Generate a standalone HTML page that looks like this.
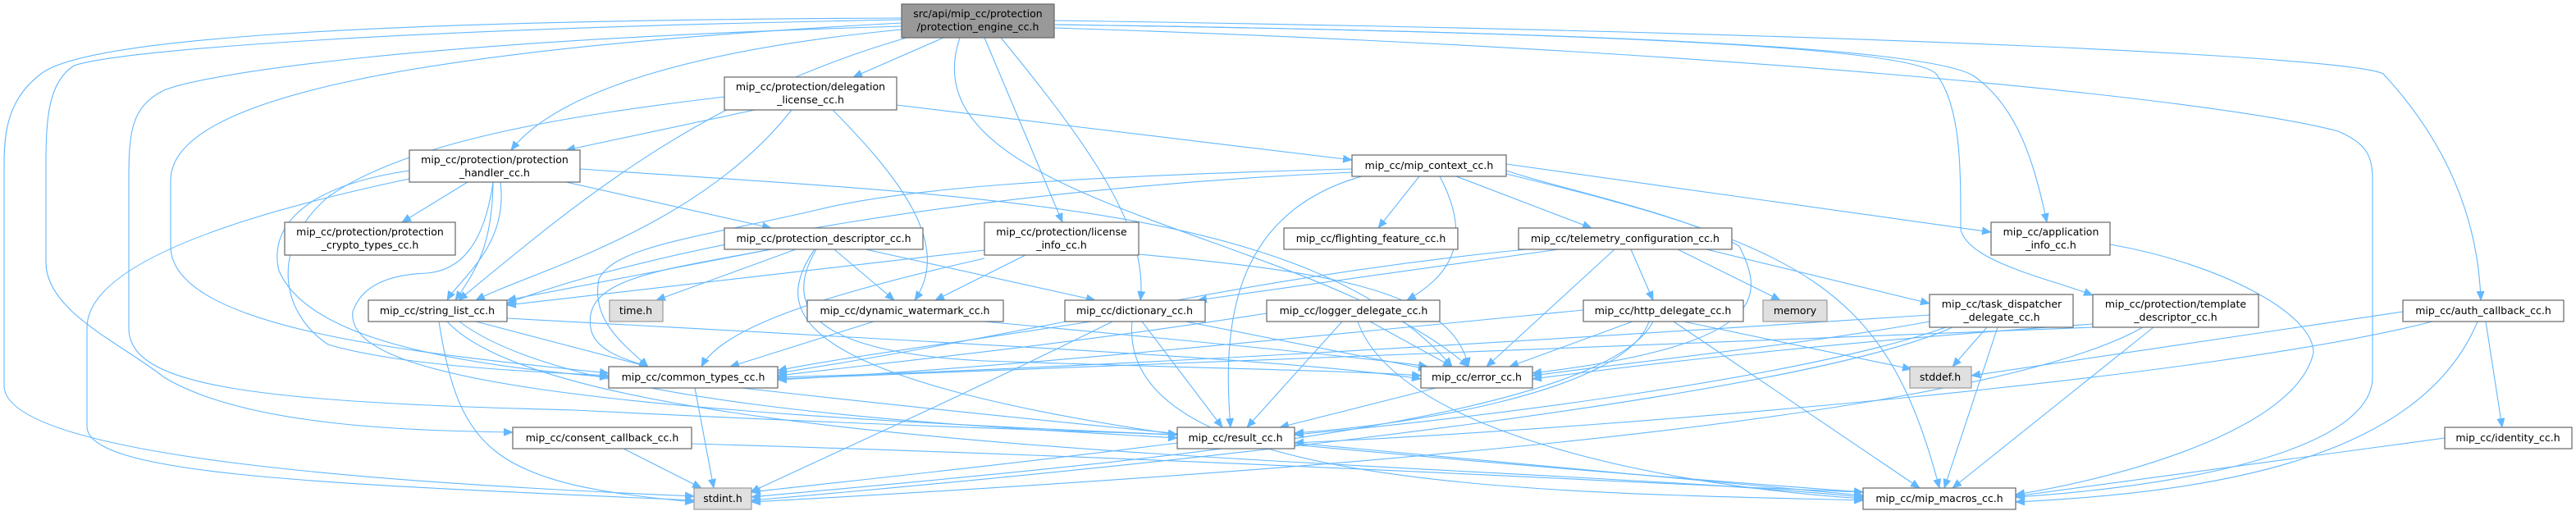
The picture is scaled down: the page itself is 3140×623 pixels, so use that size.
<!DOCTYPE html>
<html><head><meta charset="utf-8"><style>
html,body{margin:0;padding:0;background:#fff;}
svg{display:block;}
text{font-family:"DejaVu Sans","Liberation Sans",sans-serif;font-size:12.5px;fill:#000;text-anchor:middle;}
.e{fill:none;stroke:#63b8ff;stroke-width:1.1;marker-end:url(#a);}
.n{fill:#fff;stroke:#666;stroke-width:1.2;}
.g{fill:#e0e0e0;stroke:#999;stroke-width:1.2;}
.m{fill:#999;stroke:#666;stroke-width:1.2;}
</style></head><body>
<svg width="3140" height="623" viewBox="0 0 3140 623" xmlns="http://www.w3.org/2000/svg">
<defs><marker id="a" markerUnits="userSpaceOnUse" markerWidth="12" markerHeight="10" refX="11" refY="5" orient="auto"><path d="M0,0 L12,5 L0,10 z" fill="#63b8ff"/></marker></defs>
<g>
<!-- main -->
<path class="e" d="M1150,46 L1040,94"/>
<path class="e" d="M1099,36 C850,60 680,110 623,183"/>
<path class="e" d="M1105,46 C850,120 700,250 559,366"/>
<path class="e" d="M1099,28 C500,60 208,120 208,220 L208,300 C208,400 500,430 742,455"/>
<path class="e" d="M1099,22 C400,25 100,50 50,90 C10,120 5,160 5,200 L5,470 C5,560 500,590 846,605"/>
<path class="e" d="M1099,24 C500,35 150,60 90,80 C60,100 56,140 56,200 L56,320 C56,380 150,420 200,460 C300,520 500,525 625,527"/>
<path class="e" d="M1099,32 C500,50 250,90 200,110 C160,130 157,160 157,220 L157,400 C157,470 300,490 700,500 C1100,520 1300,525 1435,530"/>
<path class="e" d="M1170,46 C1100,250 1600,280 1790,447"/>
<path class="e" d="M1200,46 L1295,271"/>
<path class="e" d="M1220,46 C1330,180 1400,280 1390,366"/>
<path class="e" d="M1285,30 C2000,40 2350,60 2405,92 C2460,130 2480,200 2495,271"/>
<path class="e" d="M1285,30 C2000,40 2330,60 2360,90 C2390,130 2390,200 2390,280 C2400,320 2500,340 2551,360"/>
<path class="e" d="M1285,25 C2300,40 2870,70 2905,90 C2970,160 3020,250 3024,366"/>
<path class="e" d="M1285,34 C2100,60 2700,120 2850,160 C2885,175 2892,190 2892,220 L2892,460 C2892,540 2700,590 2457,606"/>
<!-- delegation -->
<path class="e" d="M920,134 L690,183"/>
<path class="e" d="M1093,128 L1648,195"/>
<path class="e" d="M965,134 C850,280 650,330 580,366"/>
<path class="e" d="M1015,134 C1100,220 1160,300 1115,366"/>
<path class="e" d="M883,118 C700,140 500,170 400,240 C330,300 340,380 400,420 C500,450 700,455 742,458"/>
<!-- handler -->
<path class="e" d="M570,222 L490,271"/>
<path class="e" d="M690,222 L940,278"/>
<path class="e" d="M601,222 C600,300 580,330 555,366"/>
<path class="e" d="M610,222 C620,300 560,340 545,366"/>
<path class="e" d="M499,208 C350,230 330,290 340,330 C370,400 500,440 742,460"/>
<path class="e" d="M499,218 C300,260 106,320 106,400 L106,520 C106,580 400,590 846,610"/>
<path class="e" d="M707,206 C1200,240 1600,250 1770,447"/>
<path class="e" d="M601,222 C590,300 560,330 520,333 C470,335 440,350 430,380 C420,460 700,500 1435,530"/>
<!-- mip_context -->
<path class="e" d="M1730,215 L1680,278"/>
<path class="e" d="M1775,215 L1940,278"/>
<path class="e" d="M1755,215 C1800,300 1760,340 1715,366"/>
<path class="e" d="M1836,200 L2427,283"/>
<path class="e" d="M1648,206 C1300,215 1100,230 1000,255 C850,290 750,300 730,340 C720,390 760,420 790,447"/>
<path class="e" d="M1648,210 C1200,230 800,300 618,370"/>
<path class="e" d="M1660,215 C1500,260 1490,400 1500,521"/>
<path class="e" d="M1836,208 C1900,230 2050,260 2120,300 C2150,360 2160,420 1868,455"/>
<path class="e" d="M1836,212 C2200,300 2300,350 2364,595"/>
<!-- prot_desc -->
<path class="e" d="M970,304 L800,366"/>
<path class="e" d="M1017,304 L1090,366"/>
<path class="e" d="M1055,304 L1335,366"/>
<path class="e" d="M940,304 L618,366"/>
<path class="e" d="M940,304 C800,330 710,340 720,400 C725,430 770,440 790,447"/>
<path class="e" d="M995,304 C950,380 1000,430 1200,440 C1500,450 1650,452 1732,458"/>
<path class="e" d="M993,304 C940,380 960,460 1435,530"/>
<!-- license_info -->
<path class="e" d="M1250,311 L1140,366"/>
<path class="e" d="M1200,305 L618,372"/>
<path class="e" d="M1200,315 C1000,360 880,400 855,447"/>
<path class="e" d="M1388,310 C1600,330 1770,350 1790,447"/>
<!-- telemetry -->
<path class="e" d="M1900,304 L1460,366"/>
<path class="e" d="M1988,304 L2015,366"/>
<path class="e" d="M2045,304 L2170,366"/>
<path class="e" d="M2080,304 L2352,370"/>
<path class="e" d="M1860,304 C1500,340 1300,400 948,455"/>
<path class="e" d="M1968,304 L1812,447"/>
<path class="e" d="M2572,298 C2700,320 2820,380 2820,430 C2800,520 2600,580 2457,603"/>
<!-- string_list -->
<path class="e" d="M580,392 L790,447"/>
<path class="e" d="M618,388 C1200,420 1600,440 1732,462"/>
<path class="e" d="M560,392 C700,500 1200,520 1435,534"/>
<path class="e" d="M535,392 C560,550 600,590 846,612"/>
<path class="e" d="M545,392 C700,560 1800,560 2271,606"/>
<!-- dyn_wm -->
<path class="e" d="M1065,392 L890,447"/>
<path class="e" d="M1200,392 C1500,420 1700,440 1740,447"/>
<!-- dictionary -->
<path class="e" d="M1330,392 C1150,420 1000,440 948,452"/>
<path class="e" d="M1445,392 L1740,450"/>
<path class="e" d="M1392,392 L1490,521"/>
<path class="e" d="M1356,392 C1200,470 1000,560 915,600"/>
<path class="e" d="M1380,392 C1360,600 1900,600 2271,610"/>
<!-- logger -->
<path class="e" d="M1544,382 C1300,420 1100,440 948,458"/>
<path class="e" d="M1670,392 L1770,447"/>
<path class="e" d="M1636,392 L1520,521"/>
<path class="e" d="M1655,392 C1700,520 2000,590 2271,608"/>
<!-- http -->
<path class="e" d="M1930,378 C1500,420 1200,450 948,463"/>
<path class="e" d="M1990,392 L1840,447"/>
<path class="e" d="M2010,392 C1980,480 1700,520 1578,528"/>
<path class="e" d="M2015,392 C1950,520 1300,570 916,606"/>
<path class="e" d="M2052,392 L2330,450"/>
<path class="e" d="M2040,392 L2340,595"/>
<!-- task_disp -->
<path class="e" d="M2352,384 C1800,420 1300,450 948,460"/>
<path class="e" d="M2352,392 C2200,420 2000,440 1868,458"/>
<path class="e" d="M2372,399 C2200,460 1800,510 1578,530"/>
<path class="e" d="M2380,399 C2200,480 1500,560 916,610"/>
<path class="e" d="M2422,399 L2380,447"/>
<path class="e" d="M2435,399 L2370,595"/>
<!-- template -->
<path class="e" d="M2551,399 C2000,420 1300,450 948,462"/>
<path class="e" d="M2551,395 C2200,420 2000,445 1868,462"/>
<path class="e" d="M2612,399 C2400,520 1500,580 916,612"/>
<path class="e" d="M2625,399 L2380,595"/>
<!-- auth -->
<path class="e" d="M2929,380 L2403,458"/>
<path class="e" d="M2965,392 C2700,460 2000,520 1578,540"/>
<path class="e" d="M3030,392 L3050,521"/>
<path class="e" d="M3020,392 C2950,560 2700,600 2457,612"/>
<path class="e" d="M2980,534 L2457,605"/>
<!-- lower -->
<path class="e" d="M847,473 L870,595"/>
<path class="e" d="M904,473 C1500,540 2000,580 2271,600"/>
<path class="e" d="M1750,473 L1560,521"/>
<path class="e" d="M760,547 L855,595"/>
<path class="e" d="M843,541 C1500,560 2000,590 2271,600"/>
<path class="e" d="M1435,540 C1200,570 1000,590 916,600"/>
<path class="e" d="M1578,540 C1900,570 2100,590 2271,604"/>
</g>
<g>
<rect class="m" x="1099" y="5" width="186" height="41"/><text x="1192" y="21">src/api/mip_cc/protection</text><text x="1192" y="37">/protection_engine_cc.h</text>
<rect class="n" x="883" y="94" width="210" height="40"/><text x="988" y="110">mip_cc/protection/delegation</text><text x="988" y="126">_license_cc.h</text>
<rect class="n" x="499" y="183" width="208" height="39"/><text x="603" y="199">mip_cc/protection/protection</text><text x="603" y="215">_handler_cc.h</text>
<rect class="n" x="1648" y="189" width="188" height="26"/><text x="1742" y="206">mip_cc/mip_context_cc.h</text>
<rect class="n" x="347" y="271" width="208" height="40"/><text x="451" y="287">mip_cc/protection/protection</text><text x="451" y="303">_crypto_types_cc.h</text>
<rect class="n" x="883" y="278" width="242" height="26"/><text x="1004" y="295">mip_cc/protection_descriptor_cc.h</text>
<rect class="n" x="1200" y="271" width="188" height="40"/><text x="1294" y="287">mip_cc/protection/license</text><text x="1294" y="303">_info_cc.h</text>
<rect class="n" x="1565" y="278" width="212" height="26"/><text x="1671" y="295">mip_cc/flighting_feature_cc.h</text>
<rect class="n" x="1851" y="278" width="260" height="26"/><text x="1981" y="295">mip_cc/telemetry_configuration_cc.h</text>
<rect class="n" x="2427" y="271" width="145" height="40"/><text x="2500" y="287">mip_cc/application</text><text x="2500" y="303">_info_cc.h</text>
<rect class="n" x="449" y="366" width="169" height="26"/><text x="533" y="383">mip_cc/string_list_cc.h</text>
<rect class="g" x="743" y="366" width="65" height="26"/><text x="775" y="383">time.h</text>
<rect class="n" x="984" y="366" width="239" height="26"/><text x="1103" y="383">mip_cc/dynamic_watermark_cc.h</text>
<rect class="n" x="1298" y="366" width="171" height="26"/><text x="1383" y="383">mip_cc/dictionary_cc.h</text>
<rect class="n" x="1544" y="366" width="211" height="26"/><text x="1650" y="383">mip_cc/logger_delegate_cc.h</text>
<rect class="n" x="1930" y="366" width="195" height="26"/><text x="2027" y="383">mip_cc/http_delegate_cc.h</text>
<rect class="g" x="2149" y="366" width="78" height="26"/><text x="2188" y="383">memory</text>
<rect class="n" x="2352" y="359" width="175" height="40"/><text x="2440" y="375">mip_cc/task_dispatcher</text><text x="2440" y="391">_delegate_cc.h</text>
<rect class="n" x="2551" y="359" width="202" height="40"/><text x="2652" y="375">mip_cc/protection/template</text><text x="2652" y="391">_descriptor_cc.h</text>
<rect class="n" x="2929" y="366" width="196" height="26"/><text x="3027" y="383">mip_cc/auth_callback_cc.h</text>
<rect class="n" x="742" y="447" width="206" height="26"/><text x="845" y="464">mip_cc/common_types_cc.h</text>
<rect class="n" x="1732" y="447" width="136" height="26"/><text x="1800" y="464">mip_cc/error_cc.h</text>
<rect class="g" x="2328" y="447" width="75" height="26"/><text x="2365" y="464">stddef.h</text>
<rect class="n" x="625" y="521" width="218" height="26"/><text x="734" y="538">mip_cc/consent_callback_cc.h</text>
<rect class="n" x="1435" y="521" width="143" height="26"/><text x="1506" y="538">mip_cc/result_cc.h</text>
<rect class="n" x="2980" y="521" width="155" height="26"/><text x="3057" y="538">mip_cc/identity_cc.h</text>
<rect class="g" x="846" y="595" width="70" height="26"/><text x="881" y="612">stdint.h</text>
<rect class="n" x="2271" y="595" width="186" height="26"/><text x="2364" y="612">mip_cc/mip_macros_cc.h</text>
</g>
</svg>
</body></html>
